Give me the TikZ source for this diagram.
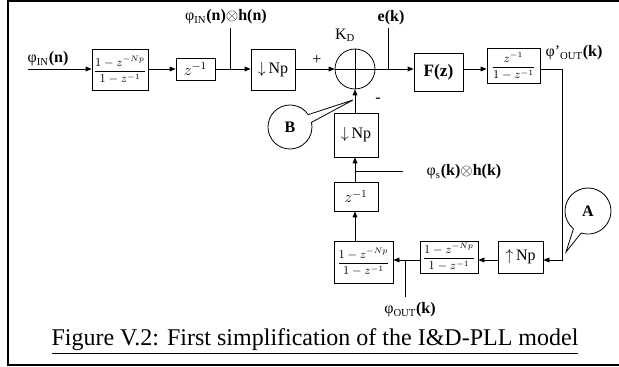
\documentclass[tikz,border=0pt]{standalone}
\usepackage{amsmath}
\usepackage{fontspec}
\setmainfont{Liberation Serif}
\usetikzlibrary{arrows.meta,shapes.callouts}

\begin{document}
\begin{tikzpicture}[
  x=0.75pt, y=-0.75pt,
  font=\fontsize{12}{13}\selectfont,
  line width=0.6pt,
  sz/.style 2 args={minimum width=#1*0.75pt, minimum height=#2*0.75pt},
  blk/.style={draw, inner sep=0pt},
  frac/.style={font=\fontsize{9}{10}\selectfont},
  arr/.style={-{Triangle[length=4.5pt,width=3.6pt]}},
  bubble/.style={ellipse callout, draw, callout pointer arc=22, inner sep=0pt,
    font=\bfseries\fontsize{12}{13}\selectfont}
]
\useasboundingbox (0,0) rectangle (619,367);
% frame
\draw[line width=1pt] (625,1) -- (8,1) -- (8,365) -- (625,365);

% forward path
\coordinate (inL) at (28,69);
\node (lin) at (48,59) {φ\textsubscript{IN}\textbf{(n)}};
\node[blk, sz={56}{41}, frac] (acc1) at (120,70) {$\dfrac{1-z^{-Np}}{1-z^{-1}}$};
\node[blk, sz={39}{22}] (dly1) at (195.5,69) {$z^{-1}$};
\coordinate (j1) at (230,69);
\coordinate (j1t) at (230,28);
\node (hin) at (226,17) {φ\textsubscript{IN}\textbf{(n)}$\otimes$\textbf{h(n)}};
\node[blk, sz={44}{41}] (dec1) at (273,70) {$\downarrow$\,Np};
\node[draw, circle, sz={40}{40}] (sum) at (355,69) {};
\draw (sum.north) -- (sum.south) (sum.west) -- (sum.east);
\node (kd) at (345,35) {K\textsubscript{D}};
\node (plus) at (317,60) {+};
\node (minus) at (378,100) {-};
\coordinate (j2) at (388,69);
\coordinate (j2t) at (388,28);
\node (ek) at (391,18) {\textbf{e(k)}};
\node[blk, sz={49}{38}, font=\fontsize{13}{14}\selectfont] (filt) at (438.5,72) {\textbf{F(z)}};
\node[blk, sz={53}{35}, frac] (intg) at (513.5,66) {$\dfrac{z^{-1}}{1-z^{-1}}$};
\node (pout) at (574,53) {φ'\textsubscript{OUT}\textbf{(k)}};
\coordinate (c1) at (562,69);
\coordinate (c2) at (562,260);

% feedback path
\node[blk, sz={45}{32}] (up) at (520.5,257) {$\uparrow$\,Np};
\node[blk, sz={58}{32}, frac] (acc2) at (449,257) {$\dfrac{1-z^{-Np}}{1-z^{-1}}$};
\node[blk, sz={59}{42}, frac] (acc3) at (363.5,262) {$\dfrac{1-z^{-Np}}{1-z^{-1}}$};
\coordinate (j3) at (405,260);
\coordinate (j3b) at (405,297);
\node (out) at (410,310) {φ\textsubscript{OUT}\textbf{(k)}};
\node[blk, sz={44}{29}] (dly2) at (356,196.5) {$z^{-1}$};
\coordinate (j4) at (355,171);
\coordinate (j4e) at (403,171);
\node (hs) at (464,172) {φ\textsubscript{s}\textbf{(k)}$\otimes$\textbf{h(k)}};
\node[blk, sz={44}{44}] (dec2) at (356,135) {$\downarrow$\,Np};

% connectors
\draw[arr] (inL) -- (inL -| acc1.west);
\draw[arr] (acc1.east |- inL) -- (inL -| dly1.west);
\draw[arr] (dly1) -- (j1 -| dec1.west);
\draw (j1) -- (j1t);
\draw[arr] (dec1.east |- j1) -- (sum);
\draw[arr] (sum) -- (sum -| filt.west);
\draw (j2) -- (j2t);
\draw[arr] (filt.east |- sum) -- (sum -| intg.west);
\draw[arr] (intg.east |- sum) -- (c1) -- (c2) -- (c2 -| up.east);
\draw[arr] (up.west |- c2) -- (c2 -| acc2.east);
\draw[arr] (acc2.west |- c2) -- (c2 -| acc3.east);
\draw (j3) -- (j3b);
\draw[arr] (acc3.north -| sum) -- (sum |- dly2.south);
\draw[arr] (sum |- dly2.north) -- (sum |- dec2.south);
\draw (j4) -- (j4e);
\draw[arr] (sum |- dec2.north) -- (sum.south);

% callouts
\coordinate (bTip) at (353,100);
\coordinate (aTip) at (566,252);
\node[bubble, sz={44}{44}, callout absolute pointer={(bTip)}] (ptB) at (290,127) {B};
\node[bubble, sz={46}{46}, callout absolute pointer={(aTip)}] (ptA) at (588,211) {A};

% caption
\node[font=\fontsize{18}{20}\selectfont] (cap) at (315,342)
  {\underline{Figure V.2: First simplification of the I\&D-PLL model}};
\end{tikzpicture}
\end{document}
